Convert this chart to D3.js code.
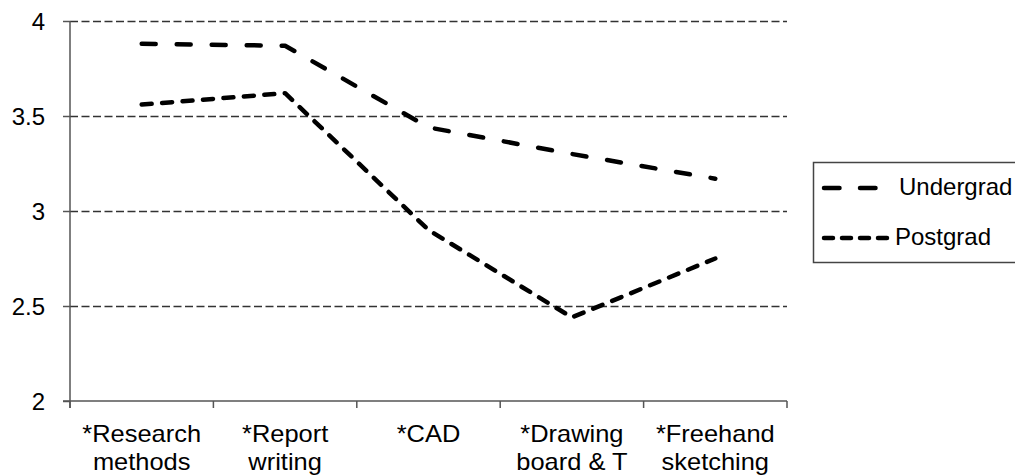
<!DOCTYPE html>
<html>
<head>
<meta charset="utf-8">
<script src="https://cdn.jsdelivr.net/npm/d3@7"></script>
<style>
  html, body { margin: 0; padding: 0; background: #fff; }
  svg { display: block; }
  text { font-family: "Liberation Sans", Arial, sans-serif; fill: #000; }
</style>
</head>
<body>
<svg id="chart" width="1015" height="476"></svg>
<script>
const categories = [["*Research", "methods"], ["*Report", "writing"], ["*CAD", ""], ["*Drawing", "board & T"], ["*Freehand", "sketching"]];
const undergrad = [3.88, 3.87, 3.44, 3.30, 3.17];
const postgrad = [3.56, 3.62, 2.90, 2.44, 2.75];
const yTicks = [2, 2.5, 3, 3.5, 4];
const seriesNames = ["Undergrad", "Postgrad"];

(function () {
const svg = d3.select("#chart");
const pLeft = 70, pRight = 787, pTop = 21, pBottom = 401;

const x = d3.scaleBand().domain(d3.range(categories.length)).range([pLeft, pRight]).paddingInner(0).paddingOuter(0);
const y = d3.scaleLinear().domain([2, 4]).range([pBottom, pTop]);

// gridlines
svg.append("g").selectAll("line").data(yTicks.filter(t => t > 2)).join("line")
  .attr("x1", pLeft).attr("x2", pRight)
  .attr("y1", d => y(d) + 0.5).attr("y2", d => y(d) + 0.5)
  .attr("stroke", "#333").attr("stroke-width", 1.3).attr("stroke-dasharray", "8,3.5");

// y axis
const yAxis = svg.append("g").attr("transform", `translate(${pLeft},0)`)
  .call(d3.axisLeft(y).tickValues(yTicks).tickSize(7).tickPadding(18).tickFormat(d3.format("")));
yAxis.select(".domain").attr("stroke", "#555").attr("stroke-width", 1.5).attr("d", `M0,${pTop}V${pBottom + 7}`);
yAxis.selectAll(".tick line").attr("stroke", "#555").attr("stroke-width", 1.5);
yAxis.selectAll(".tick text").attr("font-size", 24).attr("font-family", "Liberation Sans, Arial, sans-serif").attr("fill", "#000").attr("dy", "0.35em");

// x axis
const xAxis = svg.append("g").attr("transform", `translate(0,${pBottom})`);
xAxis.append("line").attr("x1", pLeft - 7).attr("x2", pRight).attr("y1", 0).attr("y2", 0)
  .attr("stroke", "#555").attr("stroke-width", 1.5);
const tickPos = d3.range(categories.length + 1).map(i => i < categories.length ? x(i) : pRight);
xAxis.selectAll("line.tk").data(tickPos).join("line").attr("class", "tk")
  .attr("x1", d => d).attr("x2", d => d).attr("y1", 0).attr("y2", 7)
  .attr("stroke", "#555").attr("stroke-width", 1.5);
const lbl = xAxis.selectAll("text.cat").data(categories).join("text").attr("class", "cat")
  .attr("text-anchor", "middle").attr("font-size", 24)
  .attr("transform", (d, i) => `translate(${x(i) + x.bandwidth() / 2},0) scale(1.06,1)`);
lbl.append("tspan").attr("x", 0).attr("y", 41).text(d => d[0]);
lbl.append("tspan").attr("x", 0).attr("y", 69).text(d => d[1]);

// lines
const line = d3.line().x((d, i) => x(i) + x.bandwidth() / 2).y(d => y(d));
const styles = [
  { data: undergrad, dash: "14,21" },
  { data: postgrad, dash: "10,10.5" }
];
svg.append("g").selectAll("path").data(styles).join("path")
  .attr("d", d => line(d.data))
  .attr("fill", "none").attr("stroke", "#000").attr("stroke-width", 4.5)
  .attr("stroke-linecap", "round").attr("stroke-linejoin", "round")
  .attr("stroke-dasharray", d => d.dash);

// legend
const lg = svg.append("g");
lg.append("rect").attr("x", 813.5).attr("y", 162.5).attr("width", 230).attr("height", 100)
  .attr("fill", "#fff").attr("stroke", "#444").attr("stroke-width", 1.5);
const legendRows = [
  { name: seriesNames[0], y: 188, x2: 878, dash: "15.5,20.5", tx: 899 },
  { name: seriesNames[1], y: 238, x2: 890, dash: "9,9", tx: 895 }
];
legendRows.forEach(r => {
  lg.append("line").attr("x1", 824).attr("x2", r.x2).attr("y1", r.y).attr("y2", r.y)
    .attr("stroke", "#000").attr("stroke-width", 4.5).attr("stroke-linecap", "round")
    .attr("stroke-dasharray", r.dash);
  lg.append("text").attr("x", r.tx).attr("y", r.y).attr("dy", "0.3em").attr("font-size", 24).text(r.name);
});
})();
</script>
</body>
</html>
